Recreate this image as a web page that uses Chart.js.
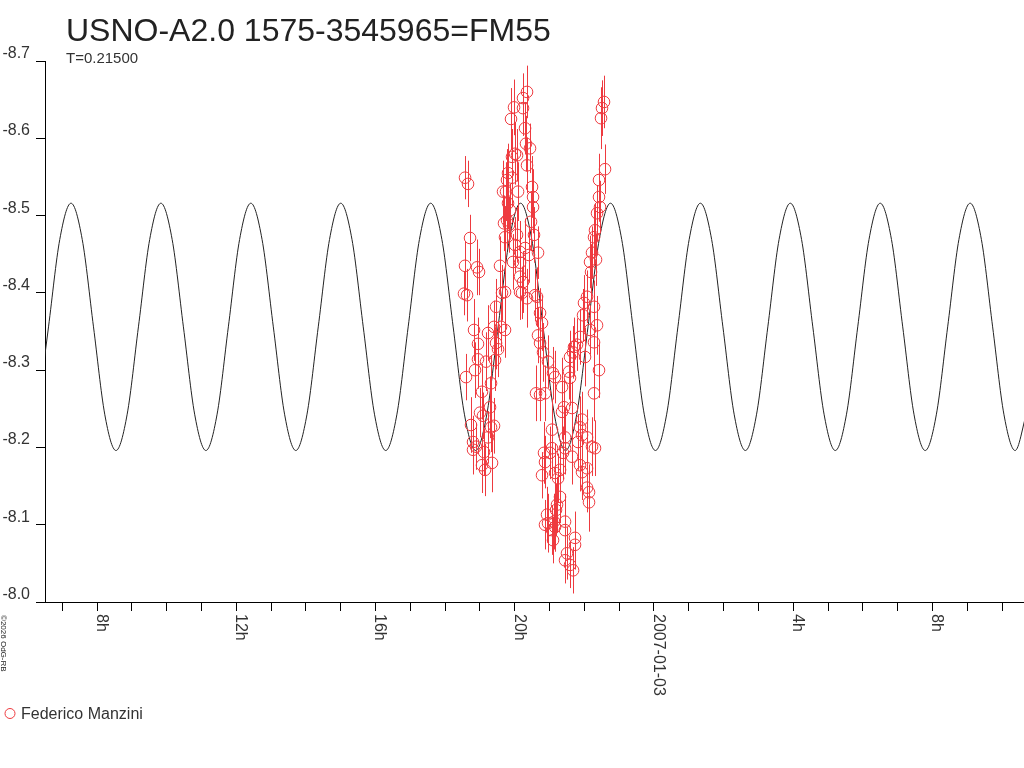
<!DOCTYPE html>
<html>
<head>
<meta charset="utf-8">
<script src="https://cdn.jsdelivr.net/npm/chart.js@4/dist/chart.umd.min.js"></script>
<style>
html, body { margin: 0; padding: 0; background: #fff; }
#myChart { display: block; }
</style>
</head>
<body>
<canvas id="myChart" width="1024" height="768"></canvas>
<script>
// observations (hours since 2007-01-02 00:00 UT, magnitude, error)
var obsTime = [
	18.543, 18.572, 18.572, 18.601, 18.629, 18.658, 18.716, 18.744, 18.802, 18.802, 18.831, 18.859, 18.888, 18.917, 18.945, 18.945, 18.974, 19.003, 19.060, 19.060, 19.089, 19.118, 19.147, 19.175, 19.233,
	19.233, 19.290, 19.319, 19.319, 19.348, 19.405, 19.405, 19.434, 19.463, 19.463, 19.520, 19.577, 19.606, 19.635, 19.664, 19.692, 19.721, 19.721, 19.721, 19.750, 19.778, 19.778, 19.807, 19.807, 19.836,
	19.865, 19.893, 19.922, 19.922, 19.951, 19.980, 20.008, 20.008, 20.066, 20.066, 20.095, 20.152, 20.152, 20.152, 20.152, 20.210, 20.238, 20.238, 20.238, 20.296, 20.296, 20.324, 20.353, 20.353, 20.353,
	20.410, 20.439, 20.468, 20.497, 20.526, 20.526, 20.554, 20.583, 20.612, 20.641, 20.669, 20.669, 20.727, 20.727, 20.727, 20.784, 20.784, 20.813, 20.841, 20.870, 20.870, 20.870, 20.928, 20.956, 20.956,
	21.014, 21.071, 21.071, 21.071, 21.100, 21.100, 21.129, 21.158, 21.158, 21.158, 21.186, 21.215, 21.244, 21.301, 21.301, 21.359, 21.359, 21.387, 21.416, 21.445, 21.445, 21.445, 21.445, 21.445, 21.502,
	21.560, 21.588, 21.588, 21.588, 21.646, 21.646, 21.675, 21.675, 21.703, 21.732, 21.732, 21.789, 21.818, 21.876, 21.876, 21.876, 21.933, 21.933, 21.933, 21.962, 21.990, 22.019, 22.077, 22.077, 22.077,
	22.077, 22.134, 22.134, 22.163, 22.163, 22.192, 22.220, 22.220, 22.278, 22.278, 22.278, 22.278, 22.306, 22.306, 22.335, 22.364, 22.364, 22.421, 22.421, 22.421, 22.450, 22.479, 22.507, 22.565, 22.594
];
var obsMag = [
	-8.399, -8.549, -8.435, -8.291, -8.397, -8.541, -8.471, -8.229, -8.207, -8.197, -8.352, -8.300, -8.201, -8.433, -8.334, -8.314, -8.427, -8.245, -8.272, -8.177, -8.241, -8.194, -8.171, -8.311, -8.348,
	-8.213, -8.252, -8.283, -8.226, -8.180, -8.356, -8.228, -8.313, -8.382, -8.335, -8.327, -8.435, -8.356, -8.400, -8.531, -8.490, -8.472, -8.401, -8.352, -8.531, -8.546, -8.494, -8.555, -8.516, -8.488,
	-8.507, -8.625, -8.576, -8.549, -8.440, -8.640, -8.580, -8.462, -8.578, -8.475, -8.531, -8.453, -8.439, -8.421, -8.401, -8.400, -8.652, -8.639, -8.414, -8.613, -8.458, -8.593, -8.660, -8.565, -8.393,
	-8.449, -8.587, -8.492, -8.537, -8.524, -8.511, -8.475, -8.397, -8.270, -8.395, -8.452, -8.345, -8.374, -8.335, -8.268, -8.361, -8.164, -8.323, -8.193, -8.270, -8.181, -8.100, -8.113, -8.311, -8.102,
	-8.193, -8.223, -8.093, -8.199, -8.296, -8.080, -8.104, -8.291, -8.167, -8.097, -8.119, -8.126, -8.160, -8.136, -8.171, -8.278, -8.246, -8.193, -8.252, -8.213, -8.199, -8.104, -8.093, -8.054, -8.063,
	-8.298, -8.317, -8.290, -8.048, -8.251, -8.188, -8.323, -8.041, -8.330, -8.083, -8.074, -8.333, -8.207, -8.343, -8.226, -8.177, -8.236, -8.216, -8.168, -8.371, -8.387, -8.317, -8.395, -8.213, -8.173,
	-8.148, -8.142, -8.129, -8.440, -8.352, -8.427, -8.452, -8.201, -8.472, -8.382, -8.336, -8.270, -8.481, -8.199, -8.443, -8.503, -8.358, -8.546, -8.524, -8.300, -8.511, -8.626, -8.639, -8.647, -8.560
];
var obsErr = [
	0.028, 0.028, 0.032, 0.030, 0.034, 0.030, 0.030, 0.036, 0.034, 0.032, 0.040, 0.036, 0.030, 0.036, 0.034, 0.038, 0.030, 0.032, 0.036, 0.036, 0.030, 0.030, 0.034, 0.038, 0.036,
	0.034, 0.040, 0.036, 0.032, 0.038, 0.034, 0.036, 0.040, 0.036, 0.034, 0.036, 0.038, 0.032, 0.036, 0.040, 0.036, 0.040, 0.034, 0.036, 0.038, 0.040, 0.036, 0.038, 0.034, 0.036,
	0.034, 0.040, 0.036, 0.038, 0.036, 0.036, 0.040, 0.036, 0.034, 0.036, 0.038, 0.040, 0.036, 0.038, 0.036, 0.034, 0.032, 0.036, 0.040, 0.034, 0.038, 0.036, 0.034, 0.036, 0.038,
	0.036, 0.032, 0.038, 0.040, 0.036, 0.034, 0.036, 0.034, 0.036, 0.038, 0.034, 0.036, 0.032, 0.036, 0.034, 0.036, 0.030, 0.038, 0.040, 0.036, 0.034, 0.032, 0.036, 0.034, 0.038,
	0.034, 0.040, 0.032, 0.036, 0.034, 0.030, 0.036, 0.034, 0.038, 0.032, 0.034, 0.036, 0.032, 0.034, 0.036, 0.038, 0.036, 0.034, 0.036, 0.038, 0.034, 0.036, 0.032, 0.030, 0.034,
	0.036, 0.034, 0.036, 0.030, 0.034, 0.036, 0.034, 0.030, 0.038, 0.034, 0.032, 0.034, 0.036, 0.036, 0.040, 0.034, 0.036, 0.032, 0.036, 0.034, 0.036, 0.038, 0.034, 0.036, 0.038,
	0.032, 0.036, 0.038, 0.034, 0.032, 0.036, 0.034, 0.038, 0.036, 0.034, 0.032, 0.036, 0.034, 0.036, 0.034, 0.036, 0.038, 0.034, 0.032, 0.036, 0.034, 0.040, 0.036, 0.034, 0.032
];

// fitted light curve, read at eighths of its cycle
var fitTime = [
	6.284, 6.607, 6.930,
	7.253, 7.576, 7.899, 8.222, 8.545, 8.867, 9.190, 9.513,
	9.836, 10.159, 10.482, 10.805, 11.128, 11.450, 11.773, 12.096,
	12.419, 12.742, 13.065, 13.388, 13.711, 14.033, 14.356, 14.679,
	15.002, 15.325, 15.648, 15.971, 16.294, 16.616, 16.939, 17.262,
	17.585, 17.908, 18.231, 18.554, 18.877, 19.199, 19.522, 19.845,
	20.168, 20.491, 20.814, 21.137, 21.460, 21.782, 22.105, 22.428,
	22.751, 23.074, 23.397, 23.720, 24.043, 24.365, 24.688, 25.011,
	25.334, 25.657, 25.980, 26.303, 26.626, 26.948, 27.271, 27.594,
	27.917, 28.240, 28.563, 28.886, 29.209, 29.531, 29.854, 30.177,
	30.500, 30.823, 31.146, 31.469, 31.792, 32.114, 32.437, 32.760,
	33.083, 33.406, 33.729, 34.052, 34.375, 34.697
];
var fitMag = [
	-8.243, -8.356, -8.469,
	-8.516, -8.469, -8.356, -8.243, -8.196, -8.243, -8.356, -8.469,
	-8.516, -8.469, -8.356, -8.243, -8.196, -8.243, -8.356, -8.469,
	-8.516, -8.469, -8.356, -8.243, -8.196, -8.243, -8.356, -8.469,
	-8.516, -8.469, -8.356, -8.243, -8.196, -8.243, -8.356, -8.469,
	-8.516, -8.469, -8.356, -8.243, -8.196, -8.243, -8.356, -8.469,
	-8.516, -8.469, -8.356, -8.243, -8.196, -8.243, -8.356, -8.469,
	-8.516, -8.469, -8.356, -8.243, -8.196, -8.243, -8.356, -8.469,
	-8.516, -8.469, -8.356, -8.243, -8.196, -8.243, -8.356, -8.469,
	-8.516, -8.469, -8.356, -8.243, -8.196, -8.243, -8.356, -8.469,
	-8.516, -8.469, -8.356, -8.243, -8.196, -8.243, -8.356, -8.469,
	-8.516, -8.469, -8.356, -8.243, -8.196, -8.243
];

var xLabelHours = [8, 12, 16, 20, 24, 28, 32];
var xLabelText = ["8h", "12h", "16h", "20h", "2007-01-03", "4h", "8h"];
var yTickValues = [-8.7, -8.6, -8.5, -8.4, -8.3, -8.2, -8.1, -8.0];

var RED = "#ee3a3f";
var FONT = '"Liberation Sans", Arial, sans-serif';

var errorBars = {
	id: "errorBars",
	beforeDatasetDraw: function (chart, args) {
		if (args.index !== 0) return;
		var ctx = chart.ctx, xs = chart.scales.x, ys = chart.scales.y, a = chart.chartArea;
		ctx.save();
		ctx.beginPath();
		ctx.rect(a.left, a.top, a.right - a.left, a.bottom - a.top);
		ctx.clip();
		ctx.strokeStyle = RED;
		ctx.lineWidth = 1;
		ctx.beginPath();
		for (var i = 0; i < obsTime.length; i++) {
			var px = Math.round(xs.getPixelForValue(obsTime[i])) + 0.5;
			ctx.moveTo(px, ys.getPixelForValue(obsMag[i] - obsErr[i]));
			ctx.lineTo(px, ys.getPixelForValue(obsMag[i] + obsErr[i]));
		}
		ctx.stroke();
		ctx.restore();
	}
};

var texts = {
	id: "texts",
	afterDraw: function (chart) {
		var ctx = chart.ctx, xs = chart.scales.x, ys = chart.scales.y;
		ctx.save();
		ctx.textBaseline = "alphabetic";

		ctx.fillStyle = "#222";
		ctx.font = "32px " + FONT;
		ctx.fillText("USNO-A2.0 1575-3545965=FM55", 66, 41);

		ctx.fillStyle = "#333";
		ctx.font = "15px " + FONT;
		ctx.fillText("T=0.21500", 66, 63);

		// y labels, right aligned just above their tick
		ctx.font = "16px " + FONT;
		ctx.textAlign = "right";
		yTickValues.forEach(function (v) {
			ctx.fillText(v.toFixed(1), 30, ys.getPixelForValue(v) - 3);
		});

		// x labels, turned a quarter clockwise
		ctx.textAlign = "left";
		xLabelHours.forEach(function (h, i) {
			ctx.save();
			ctx.translate(Math.round(xs.getPixelForValue(h)), 614);
			ctx.rotate(Math.PI / 2);
			ctx.fillText(xLabelText[i], 0, 0);
			ctx.restore();
		});

		ctx.save();
		ctx.font = "8px " + FONT;
		ctx.fillStyle = "#222";
		ctx.translate(1, 615);
		ctx.rotate(Math.PI / 2);
		ctx.fillText("\u00a92026 OdG-RB", 0, 0);
		ctx.restore();

		// legend
		ctx.strokeStyle = RED;
		ctx.lineWidth = 1;
		ctx.beginPath();
		ctx.arc(10, 713.5, 5, 0, Math.PI * 2);
		ctx.stroke();
		ctx.fillStyle = "#333";
		ctx.font = "16px " + FONT;
		ctx.fillText("Federico Manzini", 21, 719);
		ctx.restore();
	}
};

var ctx = document.getElementById("myChart").getContext("2d");
var myChart = new Chart(ctx, {
	type: "scatter",
	data: {
		datasets: [
			{
				label: "Federico Manzini",
				data: obsTime.map(function (t, i) { return { x: t, y: obsMag[i] }; }),
				showLine: false,
				pointStyle: "circle",
				pointRadius: 5.8,
				pointBorderWidth: 1,
				borderColor: RED,
				backgroundColor: "rgba(0,0,0,0)",
				order: 0,
			},
			{
				label: "fit",
				data: fitTime.map(function (t, i) { return { x: t, y: fitMag[i] }; }),
				showLine: true,
				pointRadius: 0,
				borderColor: "#222",
				borderWidth: 1,
				cubicInterpolationMode: "monotone",
				order: 1,
			},
		],
	},
	options: {
		responsive: false,
		animation: false,
		events: [],
		layout: { autoPadding: false, padding: { top: 61, left: 0, right: 0, bottom: 0 } },
		plugins: { legend: { display: false }, tooltip: { enabled: false } },
		scales: {
			x: {
				type: "linear",
				min: 6.506,
				max: 34.63,
				afterFit: function (s) { s.height = 166; },
				border: { display: true, color: "#000", width: 1 },
				grid: { display: true, drawOnChartArea: false, drawTicks: true, tickLength: 9, color: "#000" },
				ticks: { display: false, stepSize: 1, includeBounds: false },
			},
			y: {
				type: "linear",
				reverse: true,
				min: -8.7,
				max: -8.0,
				afterFit: function (s) { s.width = 45; },
				border: { display: true, color: "#000", width: 1 },
				grid: { display: true, drawOnChartArea: false, drawTicks: true, tickLength: 9, color: "#000" },
				ticks: { display: false, stepSize: 0.1 },
			},
		},
	},
	plugins: [errorBars, texts],
});
</script>
</body>
</html>
